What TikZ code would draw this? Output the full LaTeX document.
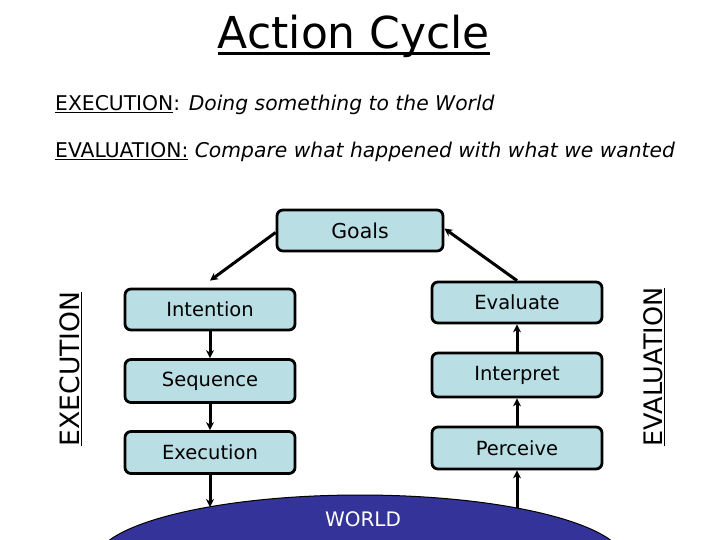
\documentclass[tikz,border=0pt]{standalone}
\usepackage{fontspec}
\setmainfont{DejaVu Sans}
\usetikzlibrary{arrows.meta}
\definecolor{boxfill}{HTML}{B9DEE3}
\definecolor{worldblue}{HTML}{333399}
\tikzset{
  stepbox/.style={draw=black, line width=2.8pt, fill=boxfill, rounded corners=6pt,
    minimum width=170pt, minimum height=41pt, inner sep=0pt, font=\fontsize{19.5}{22}\selectfont},
  arr/.style={line width=3pt, -{Stealth[length=8pt,width=8pt]}},
  sidelabel/.style={rotate=90, inner sep=0pt, font=\fontsize{27}{30}\selectfont}
}
\begin{document}
\begin{tikzpicture}[x=1pt,y=-1pt]
\useasboundingbox (0,0) rectangle (720,540);
% title
\node[anchor=base, inner sep=0pt, font=\fontsize{44}{48}\selectfont] (title) at (354,49) {Action Cycle};
\draw[line width=3pt] ([yshift=-5pt]title.base west) -- ([yshift=-5pt]title.base east);
% definitions
\node[anchor=base west, inner sep=0pt, font=\fontsize{20.3}{23}\selectfont] (l1) at (55,111)
  {\underline{EXECUTION}: \textit{Doing something to the World}};
\node[anchor=base west, inner sep=0pt, font=\fontsize{20.3}{23}\selectfont] (l2) at (55,158)
  {\underline{EVALUATION:} \textit{Compare what happened with what we wanted}};
% world
\begin{scope}
\clip (0,0) rectangle (720,540);
\draw[fill=worldblue, draw=black, line width=1pt] (360,562) ellipse [x radius=265, y radius=67];
\end{scope}
\node[text=white, inner sep=0pt, font=\fontsize{20}{22}\selectfont] (world) at (363,519) {WORLD};
\coordinate (w1) at (210,507);
\coordinate (w2) at (517,508);
% boxes
\node[stepbox, minimum width=166pt, font=\fontsize{20.5}{22}\selectfont] (goals) at (360,230.5) {Goals};
\node[stepbox] (intention) at (210,309.5) {Intention};
\node[stepbox, minimum height=43pt] (sequence) at (210,381) {Sequence};
\node[stepbox, minimum height=42pt] (execution) at (210,452.5) {Execution};
\node[stepbox] (evaluate) at (517,302.5) {Evaluate};
\node[stepbox, minimum height=44pt] (interpret) at (517,375) {Interpret};
\node[stepbox, minimum height=42pt] (perceive) at (517,448) {Perceive};
% arrows
\draw[arr] ([yshift=-2pt]goals.west) -- ([yshift=7pt]intention.north);
\draw[arr] (intention) -- (sequence);
\draw[arr] (sequence) -- (execution);
\draw[arr] (execution.south) -- (w1);
\draw[arr] (w2) -- (perceive.south);
\draw[arr] (perceive) -- (interpret);
\draw[arr] (interpret) -- (evaluate);
\draw[arr] (evaluate.north) -- ([yshift=2pt]goals.east);
% side labels
\node[sidelabel, font=\fontsize{26.6}{30}\selectfont] (execlab) at (71,369) {\underline{EXECUTION}};
\node[sidelabel, font=\fontsize{25.5}{30}\selectfont] (evallab) at (654,367) {\underline{EVALUATION}};
\end{tikzpicture}
\end{document}
